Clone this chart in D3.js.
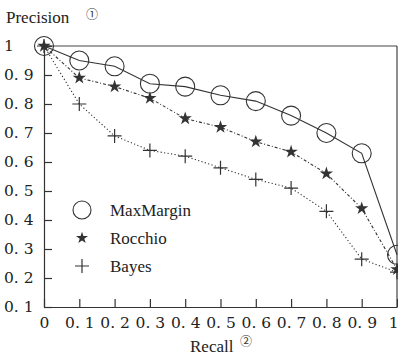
<!DOCTYPE html>
<html>
<head>
<meta charset="utf-8">
<script src="https://cdn.jsdelivr.net/npm/d3@7"></script>
<style>
  body { margin: 0; background: #fff; }
  svg { display: block; }
  .axis path, .axis line { stroke: #333; stroke-width: 1.2; }
  .axis text { font-family: "DejaVu Serif", "Liberation Serif", "Noto Serif", serif; font-size: 15.5px; fill: #222; }
  .word { font-family: "Liberation Serif", "Times New Roman", "Tinos", "Noto Serif", "DejaVu Serif", serif; font-size: 17px; fill: #222; }
  .circ { font-family: "Noto Sans CJK SC", "DejaVu Sans", sans-serif; font-size: 12px; fill: #333; }
</style>
</head>
<body>
<div id="chart"></div>
<script>
const recall = [0, 0.1, 0.2, 0.3, 0.4, 0.5, 0.6, 0.7, 0.8, 0.9, 1];
const maxMargin = [1.0, 0.95, 0.93, 0.87, 0.86, 0.83, 0.81, 0.76, 0.70, 0.63, 0.28];
const rocchio = [1.0, 0.89, 0.86, 0.82, 0.75, 0.72, 0.67, 0.635, 0.56, 0.44, 0.23];
const bayes = [1.0, 0.80, 0.69, 0.64, 0.62, 0.58, 0.54, 0.51, 0.43, 0.265, 0.22];
const xTicks = [0, 0.1, 0.2, 0.3, 0.4, 0.5, 0.6, 0.7, 0.8, 0.9, 1];
const yTicks = [0.1, 0.2, 0.3, 0.4, 0.5, 0.6, 0.7, 0.8, 0.9, 1];
const seriesNames = ['MaxMargin', 'Rocchio', 'Bayes'];

const width = 398, height = 356;
const margin = { top: 46, right: 1, bottom: 49, left: 44 };

const svg = d3.select('#chart').append('svg')
  .attr('width', width)
  .attr('height', height);

const x = d3.scaleLinear().domain([0, 1]).range([margin.left, width - margin.right]);
const y = d3.scaleLinear().domain([0.1, 1]).range([height - margin.bottom, margin.top]);

const fmt = d => (d === 0 ? '0' : d === 1 ? '1' : '0. ' + Math.round(d * 10));

// frame top and right
svg.append('line')
  .attr('x1', x(0)).attr('x2', x(1))
  .attr('y1', y(1)).attr('y2', y(1))
  .attr('stroke', '#444').attr('stroke-width', 1.2);
svg.append('line')
  .attr('x1', x(1)).attr('x2', x(1))
  .attr('y1', y(1)).attr('y2', y(0.1))
  .attr('stroke', '#444').attr('stroke-width', 1.2);

// X axis
const gx = svg.append('g')
  .attr('class', 'axis')
  .attr('transform', `translate(0,${y(0.1)})`)
  .call(d3.axisBottom(x).tickValues(xTicks).tickFormat(fmt)
    .tickSize(-8).tickSizeOuter(0).tickPadding(10));
// last label sits on the right edge; pull it inside
gx.selectAll('text').filter(d => d === 1).attr('text-anchor', 'end').attr('dx', 1);

// Y axis
const gy = svg.append('g')
  .attr('class', 'axis')
  .attr('transform', `translate(${x(0)},0)`)
  .call(d3.axisLeft(y).tickValues(yTicks).tickFormat(fmt)
    .tickSize(-8).tickSizeOuter(0).tickPadding(0));
gy.selectAll('text')
  .attr('text-anchor', 'start')
  .attr('x', 4 - x(0));

// axis titles
svg.append('text').attr('class', 'word').attr('x', 6).attr('y', 23).text('Precision');
svg.append('text').attr('class', 'circ').attr('x', 86).attr('y', 19).text('①');
svg.append('text').attr('class', 'word').attr('x', 190).attr('y', 352).text('Recall');
svg.append('text').attr('class', 'circ').attr('x', 240).attr('y', 346).text('②');

const line = d3.line()
  .x((d, i) => x(recall[i]))
  .y(d => y(d));

// lines
svg.append('path').datum(maxMargin)
  .attr('d', line).attr('fill', 'none')
  .attr('stroke', '#333').attr('stroke-width', 1.1);
svg.append('path').datum(rocchio)
  .attr('d', line).attr('fill', 'none')
  .attr('stroke', '#333').attr('stroke-width', 1.1)
  .attr('stroke-dasharray', '3,2,1,2');
svg.append('path').datum(bayes)
  .attr('d', line).attr('fill', 'none')
  .attr('stroke', '#333').attr('stroke-width', 1.1)
  .attr('stroke-dasharray', '1.2,2.3');

const star = d3.symbol().type(d3.symbolStar).size(55);

// markers
svg.selectAll('.mm').data(maxMargin).enter()
  .append('circle').attr('class', 'mm')
  .attr('cx', (d, i) => x(recall[i]))
  .attr('cy', d => y(d))
  .attr('r', 9.5)
  .attr('fill', 'none').attr('stroke', '#333').attr('stroke-width', 1.1);

svg.selectAll('.ro').data(rocchio).enter()
  .append('path').attr('class', 'ro')
  .attr('d', star)
  .attr('transform', (d, i) => `translate(${x(recall[i])},${y(d)})`)
  .attr('fill', '#333');

const plus = 'M-7,0H7M0,-7V7';
svg.selectAll('.ba').data(bayes).enter()
  .append('path').attr('class', 'ba')
  .attr('d', plus)
  .attr('transform', (d, i) => `translate(${x(recall[i])},${y(d)})`)
  .attr('stroke', '#333').attr('stroke-width', 1.2).attr('fill', 'none');

// legend
const legend = svg.append('g').attr('transform', 'translate(82,210)');
seriesNames.forEach((name, i) => {
  const g = legend.append('g').attr('transform', `translate(0,${i * 28})`);
  if (i === 0) {
    g.append('circle').attr('r', 9).attr('fill', 'none').attr('stroke', '#333').attr('stroke-width', 1.1);
  } else if (i === 1) {
    g.append('path').attr('d', d3.symbol().type(d3.symbolStar).size(45)).attr('fill', '#333');
  } else {
    g.append('path').attr('d', plus).attr('stroke', '#333').attr('stroke-width', 1.2);
  }
  g.append('text').attr('class', 'word').attr('x', 28).attr('y', 6).text(name);
});
</script>
</body>
</html>
